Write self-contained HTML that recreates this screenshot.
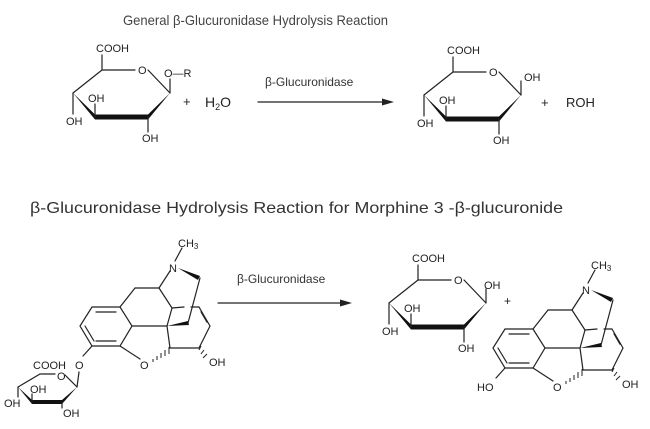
<!DOCTYPE html>
<html><head><meta charset="utf-8"><style>
html,body{margin:0;padding:0;background:#fff;}
svg{display:block;font-family:"Liberation Sans",sans-serif;}
.b{stroke:#222;stroke-width:1.2;fill:none;stroke-linecap:round}
.t{font-size:11px;fill:#222}
</style></head><body>
<svg width="650" height="429" viewBox="0 0 650 429" xmlns="http://www.w3.org/2000/svg">
<defs>
<g id="sug">
  <polyline class="b" points="-29,23 0,0 33,0"/>
  <line class="b" x1="46" y1="0" x2="68" y2="23"/>
  <line class="b" x1="0" y1="0" x2="0" y2="-15"/>
  <polygon points="-29,23 -7,44.5 -7,49.5" fill="#111"/>
  <line x1="-7" y1="47" x2="46" y2="47" stroke="#111" stroke-width="5"/>
  <polygon points="68,23 46,44.5 46,49.5" fill="#111"/>
  <line class="b" x1="-29" y1="23" x2="-29" y2="44"/>
  <line class="b" x1="-7" y1="47" x2="-7" y2="34"/>
  <line class="b" x1="46" y1="47" x2="46" y2="62"/>
  <line class="b" x1="68" y1="23" x2="68" y2="9"/>
  <text class="t" x="-6" y="-18">COOH</text>
  <text class="t" x="36" y="4">O</text>
  <text class="t" x="-14" y="32">OH</text>
  <text class="t" x="-36" y="55">OH</text>
  <text class="t" x="40" y="72">OH</text>
</g>
<g id="mor">
  <polygon class="b" points="505,329 533,329 545,348 533,368 505,368 493,348"/>
  <line class="b" x1="509" y1="334" x2="529" y2="334"/>
  <line class="b" x1="498" y1="348" x2="507" y2="363"/>
  <line class="b" x1="509" y1="363" x2="529" y2="363"/>
  <line class="b" x1="533" y1="329" x2="548" y2="310"/>
  <line class="b" x1="548" y1="310" x2="572" y2="310"/>
  <line class="b" x1="572" y1="310" x2="583" y2="293"/>
  <line class="b" x1="572" y1="310" x2="585" y2="330"/>
  <line class="b" x1="585" y1="330" x2="580" y2="348"/>
  <line class="b" x1="545" y1="348" x2="580" y2="348"/>
  <line class="b" x1="580" y1="348" x2="583" y2="370"/>
  <line class="b" x1="583" y1="370" x2="612" y2="370"/>
  <line class="b" x1="612" y1="370" x2="623" y2="348"/>
  <line class="b" x1="623" y1="348" x2="612" y2="329"/>
  <line class="b" x1="617" y1="333" x2="617" y2="345" transform="rotate(-30 617 339)"/>
  <line class="b" x1="585" y1="330" x2="597" y2="329"/>
  <line class="b" x1="604" y1="329" x2="612" y2="329"/>
  <line class="b" x1="533" y1="368" x2="553" y2="381"/>
  <line class="b" x1="505" y1="368" x2="496" y2="378"/>
  <polygon points="591,290 613,298 611,302" fill="#111"/>
  <line class="b" x1="613" y1="300" x2="601" y2="345"/>
  <polygon points="580,348 601,343 602,347" fill="#111"/>
  <line class="b" x1="588" y1="283" x2="595" y2="270"/>
  <g stroke="#222" stroke-width="1">
   <line x1="566" y1="384" x2="566" y2="381"/><line x1="570" y1="382" x2="570" y2="378"/><line x1="574" y1="380" x2="574" y2="375"/><line x1="578" y1="378" x2="578" y2="372"/><line x1="582" y1="376" x2="582" y2="369"/>
   <line x1="614" y1="368" x2="612" y2="372"/><line x1="617" y1="372" x2="614" y2="376"/><line x1="620" y1="376" x2="616" y2="380"/>
  </g>
  <text class="t" x="582" y="294">N</text>
  <text class="t" x="591" y="269">CH<tspan font-size="8" dy="2">3</tspan></text>
  <text class="t" x="553" y="391">O</text>
  <text class="t" x="622" y="388">OH</text>
</g>
</defs>

<text x="123" y="25" font-size="14" fill="#444" textLength="265" lengthAdjust="spacingAndGlyphs">General β-Glucuronidase Hydrolysis Reaction</text>
<use href="#sug" transform="translate(102,70)"/>
<text class="t" x="164" y="77">O—R</text>
<text x="183" y="106" font-size="13" fill="#222">+</text>
<text x="205" y="107" font-size="14" fill="#222">H<tspan font-size="9" dy="3">2</tspan><tspan dy="-3">O</tspan></text>
<line class="b" x1="258" y1="102" x2="388" y2="102"/>
<polygon points="394,102 382,98.5 382,105.5" fill="#222"/>
<text x="265" y="86" font-size="12" fill="#333">β-Glucuronidase</text>
<use href="#sug" transform="translate(453,72)"/>
<text class="t" x="524" y="81">OH</text>
<text x="541" y="107" font-size="13" fill="#222">+</text>
<text x="566" y="107" font-size="13" fill="#222">ROH</text>

<text x="30" y="213" font-size="16" fill="#333" textLength="533" lengthAdjust="spacingAndGlyphs">β-Glucuronidase Hydrolysis Reaction for Morphine  3 -β-glucuronide</text>

<use href="#mor" transform="translate(-413,-22)"/>
<text class="t" x="75" y="369">O</text>
<g>
  <polyline class="b" points="18,387 40,374 55,374"/>
  <line class="b" x1="65" y1="375" x2="77" y2="387"/>
  <line class="b" x1="77" y1="387" x2="79" y2="372"/>
  <polygon points="18,387 32,400 32,404" fill="#111"/>
  <line x1="32" y1="402" x2="62" y2="402" stroke="#111" stroke-width="4"/>
  <polygon points="77,387 62,400 62,404" fill="#111"/>
  <line class="b" x1="18" y1="387" x2="18" y2="397"/>
  <line class="b" x1="32" y1="402" x2="32" y2="394"/>
  <line class="b" x1="62" y1="402" x2="62" y2="408"/>
  <text class="t" x="33" y="369">COOH</text>
  <text class="t" x="57" y="380">O</text>
  <text class="t" x="30" y="393">OH</text>
  <text class="t" x="4" y="407">OH</text>
  <text class="t" x="63" y="417">OH</text>
</g>

<line class="b" x1="218" y1="303" x2="345" y2="303"/>
<polygon points="352,303 340,299.5 340,306.5" fill="#222"/>
<text x="237" y="283" font-size="12" fill="#333">β-Glucuronidase</text>

<use href="#sug" transform="translate(418,280)"/>
<text class="t" x="484" y="289">OH</text>
<text x="504" y="305" font-size="12" fill="#222">+</text>
<use href="#mor"/>
<text class="t" x="477" y="391">HO</text>
</svg>
</body></html>
